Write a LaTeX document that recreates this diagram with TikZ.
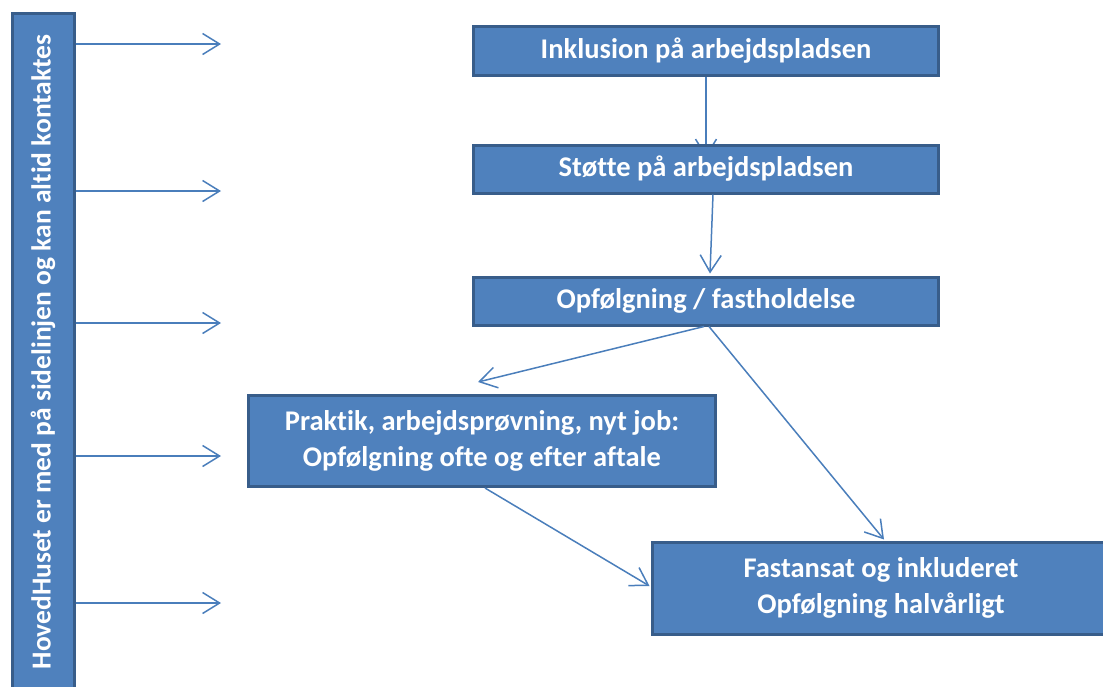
\documentclass[tikz,border=0pt]{standalone}
\usepackage{fontspec}
\setmainfont{Carlito}[Ligatures=NoCommon]
\usetikzlibrary{arrows.meta,backgrounds,calc}
\definecolor{boxfill}{HTML}{4F81BD}
\definecolor{boxline}{HTML}{385D8A}
\definecolor{conncol}{HTML}{4A7EBB}
\begin{document}
\begin{tikzpicture}[x=1pt,y=-1pt,
  box/.style={draw=boxline,line width=3pt,fill=boxfill,text=white,font=\bfseries\fontsize{28.5}{36}\selectfont,align=center,inner sep=0pt},
  conn/.style={draw=conncol,line width=1.5pt,-{Straight Barb[length=17pt,width=21pt,line width=1.5pt]}}]
\useasboundingbox (0,0) rectangle (1103,686);
\clip (0,0) rectangle (1103,686);
\node[box,minimum width=62,minimum height=678] (bar) at (43,352) {};
\node[text=white,font=\bfseries\fontsize{27.5}{30}\selectfont,rotate=90] (bartext) at (bar.center) {HovedHuset er med på sidelinjen og kan altid kontaktes};
\node[box,minimum width=465,minimum height=49] (b1) at (706,51) {Inklusion på arbejdspladsen};
\node[box,minimum width=465,minimum height=48] (b2) at (706,169) {Støtte på arbejdspladsen};
\node[box,minimum width=465,minimum height=48] (b3) at (706,301) {Opfølgning / fastholdelse};
\node[box,minimum width=467,minimum height=91] (b4) at (482,441) {Praktik, arbejdsprøvning, nyt job:\\Opfølgning ofte og efter aftale};
\node[box,minimum width=458,minimum height=92] (b5) at (881,588) {Fastansat og inkluderet\\Opfølgning halvårligt};
\coordinate (t1) at (221,44);
\coordinate (t2) at (221,191);
\coordinate (t3) at (221,323);
\coordinate (t4) at (221,456);
\coordinate (t5) at (221,603);
\coordinate (e4) at (478,382);
\begin{scope}[on background layer]
\draw[conn] (b1.south) -- ($(b2.north)+(0,14)$);
\end{scope}
\foreach \t in {t1,t2,t3,t4,t5} \draw[conn] (bar.east |- \t) -- (\t);
\draw[conn] ($(b2.south)+(7,0)$) -- ($(b3.north)+(4,-2)$);
\draw[conn] ($(b3.south)+(-2,0)$) -- (e4);
\draw[conn] ($(b3.south)+(3,0)$) -- ($(b5.north)+(3,-1)$);
\draw[conn] ($(b4.south)+(3,0)$) -- ($(b5.west)+(-1,-2)$);
\end{tikzpicture}
\end{document}
